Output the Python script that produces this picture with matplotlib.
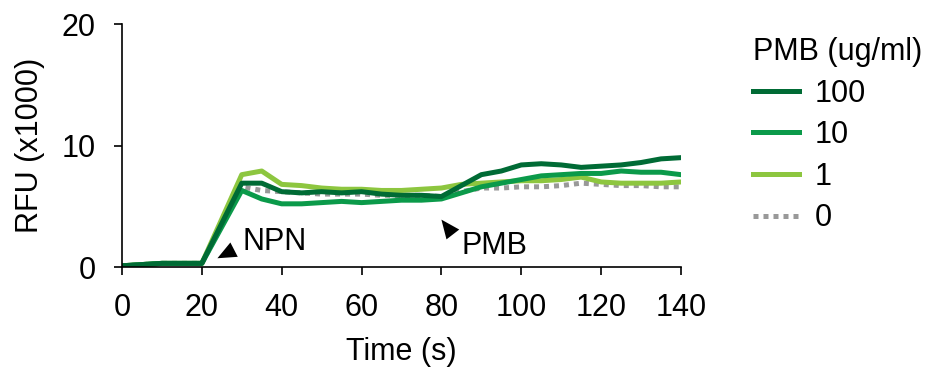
import matplotlib
matplotlib.use("Agg")
import matplotlib.pyplot as plt

plt.rcParams['font.family'] = ['Liberation Sans', 'DejaVu Sans']

time = [0, 10, 20, 30, 35, 40, 45, 50, 55, 60, 65, 70, 75, 80, 85,
        90, 95, 100, 105, 110, 115, 120, 125, 130, 135, 140]
pmb_100 = [0.1, 0.3, 0.3, 6.9, 6.9, 6.2, 6.1, 6.2, 6.1, 6.2, 6.0, 5.9, 5.9, 5.8, 6.7,
           7.6, 7.9, 8.4, 8.5, 8.4, 8.2, 8.3, 8.4, 8.6, 8.9, 9.0]
pmb_10 = [0.1, 0.3, 0.3, 6.3, 5.6, 5.2, 5.2, 5.3, 5.4, 5.3, 5.4, 5.5, 5.5, 5.6, 6.1,
          6.6, 6.9, 7.2, 7.5, 7.6, 7.7, 7.7, 7.9, 7.8, 7.8, 7.6]
pmb_1 = [0.1, 0.3, 0.3, 7.6, 7.9, 6.8, 6.7, 6.5, 6.4, 6.4, 6.3, 6.3, 6.4, 6.5, 6.8,
         6.9, 7.0, 7.1, 7.1, 7.2, 7.4, 7.0, 6.9, 6.9, 6.9, 7.0]
pmb_0 = [0.1, 0.3, 0.3, 6.6, 6.3, 6.2, 6.1, 6.0, 6.0, 6.0, 5.9, 5.9, 5.9, 5.8, 6.2,
         6.5, 6.5, 6.6, 6.6, 6.7, 6.9, 6.8, 6.7, 6.7, 6.6, 6.6]

fs = 22

fig = plt.figure(figsize=(9.47, 3.81), dpi=100)
ax = fig.add_axes([0.1288, 0.2992, 0.5903, 0.6378])

lw = 3.6
l0, = ax.plot(time, pmb_0, color="#999999", lw=lw, linestyle=(0, (1, 1)), label="0")
l1, = ax.plot(time, pmb_1, color="#8dc63f", lw=lw, label="1")
l10, = ax.plot(time, pmb_10, color="#0b9a4a", lw=lw, label="10")
l100, = ax.plot(time, pmb_100, color="#006b35", lw=lw, label="100")

# arrowheads marking the additions
head = dict(arrowstyle="-|>,head_length=1.35,head_width=0.58", color="black",
            lw=0, shrinkA=0, shrinkB=0)
ax.annotate("", xy=(23.9, 0.72), xytext=(28.5, 1.5), arrowprops=head)
ax.annotate("", xy=(80.0, 3.9), xytext=(82.7, 2.75), arrowprops=head)
ax.text(30.3, 2.05, "NPN", fontsize=fs, va="center", ha="left")
ax.text(85.0, 1.75, "PMB", fontsize=fs, va="center", ha="left")

ax.set_xlim(0, 140)
ax.set_ylim(0, 20)
ax.set_xticks(range(0, 141, 20))
ax.set_yticks([0, 10, 20])
ax.spines["top"].set_visible(False)
ax.spines["right"].set_visible(False)
for s in ("left", "bottom"):
    ax.spines[s].set_linewidth(1.2)
ax.tick_params(direction="out", length=6, width=1.2, labelsize=fs, pad=13)
ax.set_xlabel("Time (s)", fontsize=fs, labelpad=10)
ax.set_ylabel("RFU (x1000)", fontsize=fs, labelpad=12)

leg = ax.legend(handles=[l100, l10, l1, l0], title="PMB (ug/ml)", fontsize=fs,
                title_fontsize=fs, frameon=False, loc="upper left",
                bbox_to_anchor=(1.08, 1.06), handlelength=1.5, labelspacing=0.38,
                handletextpad=0.5)
leg._legend_box.align = "left"

fig.savefig("out.png", dpi=100)
